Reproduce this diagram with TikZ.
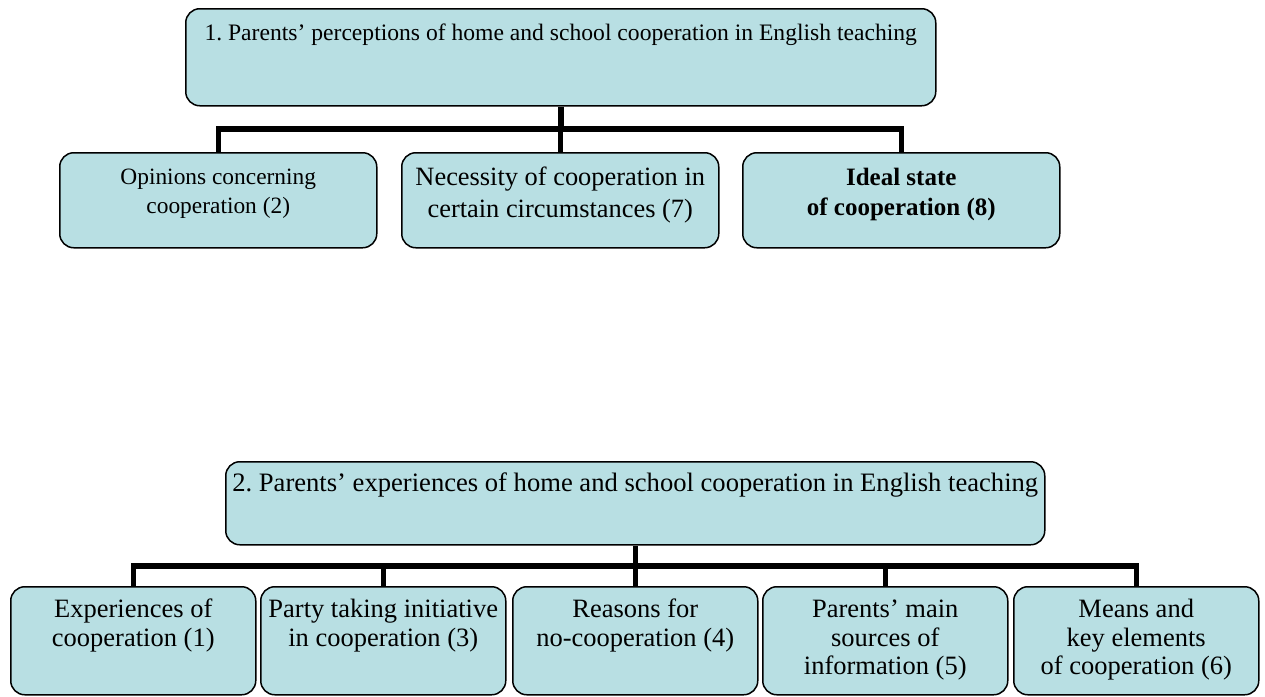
\documentclass[tikz,border=0pt]{standalone}
\usepackage{fontspec}
\setmainfont{Liberation Serif}
\frenchspacing
\definecolor{cardfill}{RGB}{184,223,227}
% text block of a card: width, height, first baseline, font size, line skip, text
\newcommand\cardtext[6]{\parbox[t][#2pt][t]{#1pt}{\centering\fontsize{#4}{#5}\selectfont\rule{0pt}{#3pt}#6}}
\begin{document}
\begin{tikzpicture}[x=1pt,y=-1pt,
  card/.style={draw=black, line width=1.5pt, fill=cardfill, rounded corners=14pt,
               inner sep=0pt, anchor=north west},
  link/.style={line width=5.5pt, line join=miter}]
\useasboundingbox (0,0) rectangle (1265,696);

% ---- group 1: perceptions ----
\node[card] (p1) at (185,8)
  {\cardtext{750}{97}{32}{23.6}{29}{1. Parents’ perceptions of home and school cooperation in English teaching}};
\node[card] (c11) at (59,152)
  {\cardtext{317}{95}{32}{23.4}{29}{Opinions concerning\\cooperation (2)}};
\node[card] (c12) at (401,152)
  {\cardtext{317}{95}{33}{26.4}{32}{Necessity of cooperation in\\certain circumstances (7)}};
\node[card] (c13) at (742,152)
  {\cardtext{317}{95}{33}{25}{30}{\textbf{Ideal state\\of cooperation (8)}}};

\coordinate (bus1) at (0,129);
\draw[link] (p1.south) -- (p1.south |- bus1);
\draw[link] (c11.north) -- (c11.north |- bus1) -- (c13.north |- bus1) -- (c13.north);
\draw[link] (c12.north) -- (c12.north |- bus1);

% ---- group 2: experiences ----
\node[card] (p2) at (225,461)
  {\cardtext{819}{83}{30}{26.6}{30}{2. Parents’ experiences of home and school cooperation in English teaching}};
\node[card] (c21) at (10,586)
  {\cardtext{245}{108}{31}{26.5}{28.5}{Experiences of\\cooperation (1)}};
\node[card] (c22) at (260,586)
  {\cardtext{245}{108}{31}{26.5}{28.5}{Party taking initiative\\in cooperation (3)}};
\node[card] (c23) at (512,586)
  {\cardtext{245}{108}{31}{26.5}{28.5}{Reasons for\\no-cooperation (4)}};
\node[card] (c24) at (762,586)
  {\cardtext{245}{108}{31}{26.5}{28.5}{Parents’ main\\sources of\\information (5)}};
\node[card] (c25) at (1013,586)
  {\cardtext{245}{108}{31}{26.5}{28.5}{Means and\\key elements\\of cooperation (6)}};

\coordinate (bus2) at (0,566);
\draw[link] (p2.south) -- (p2.south |- bus2);
\draw[link] (c21.north) -- (c21.north |- bus2) -- (c25.north |- bus2) -- (c25.north);
\foreach \c in {c22,c23,c24}
  \draw[link] (\c.north) -- (\c.north |- bus2);
\end{tikzpicture}
\end{document}
